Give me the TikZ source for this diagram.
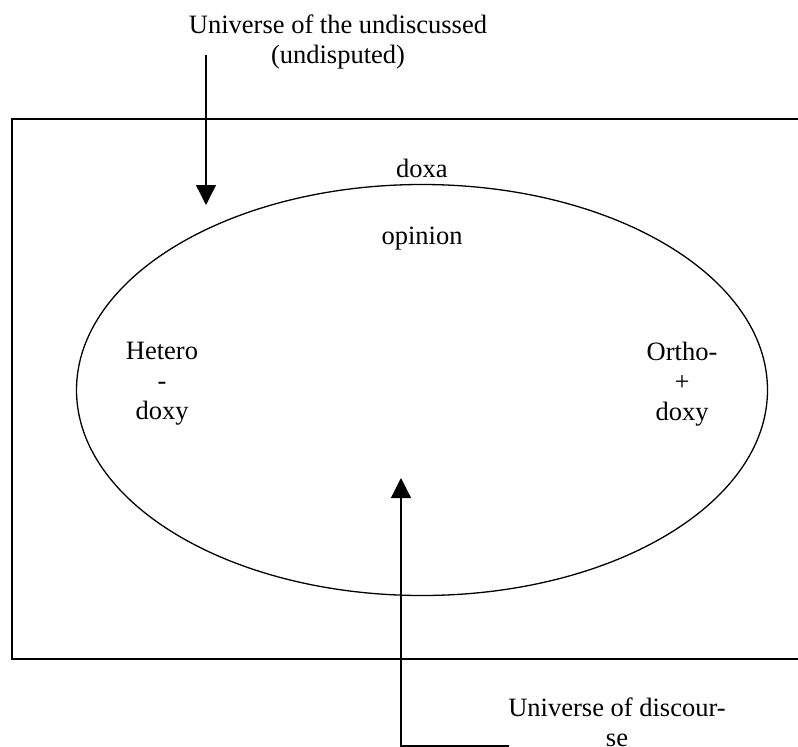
\documentclass[tikz,border=0pt]{standalone}
\usepackage{fontspec}
\setmainfont{Liberation Serif}
\usetikzlibrary{arrows.meta,positioning,shapes.geometric}
\tikzset{>={Triangle[width=20pt,length=20pt]}}

\begin{document}
\begin{tikzpicture}[x=1pt, y=-1pt, line width=1.3pt, font=\fontsize{26.5}{30}\selectfont,
	label text/.style={align=center, inner sep=0pt}]
		\useasboundingbox (0,0) rectangle (798,747);

		% frame, open on the right
		\draw (798,119) -- (12,119) -- (12,659) -- (798,659);

		\node[draw,ellipse,minimum width=691pt,minimum height=411pt,inner sep=0pt] (doxasphere) at (422,390) {};

		\node[label text] (doxa) at (422,168) {doxa};
		\node[label text] (opinion) at (422,239) {opinion};
		\node[label text] (heterodoxy) at (162,384) {Hetero\\-\\doxy};
		\node[label text] (orthodoxy) at (682,384) {Ortho-\\+\\doxy};

		% base anchor sits on the last line
		\node[label text,anchor=base] (undiscussed) at (338,63) {Universe of the undiscussed\\(undisputed)};
		\node[label text,anchor=base] (discourse) at (617,746) {Universe of discour-\\se};

		\coordinate (undiscussedtail) at (206,55);
		\coordinate (undiscussedtip) at (206,205);
		\draw[->] (undiscussedtail) -- (undiscussedtip);

		\coordinate (discoursefoot) at (509,746);
		\coordinate (discoursetip) at (401,478);
		\draw[->] (discoursefoot) -| (discoursetip);
	\end{tikzpicture}
\end{document}
